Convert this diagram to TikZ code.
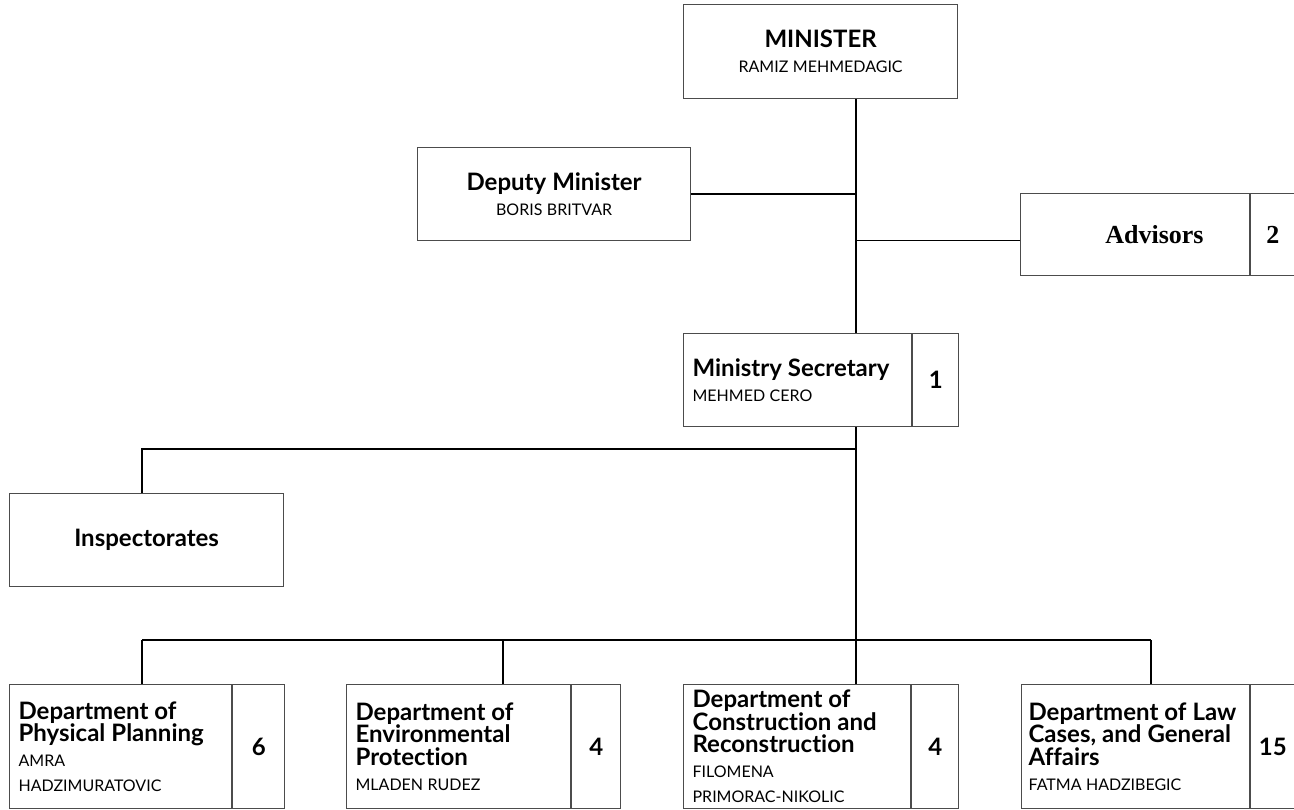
\documentclass[tikz,border=0pt]{standalone}
\usepackage{fontspec}
\setmainfont{Lato}[Ligatures={NoCommon}]
\newfontfamily\advfont{Liberation Serif}
\usetikzlibrary{positioning}
\setlength\parindent{0pt}

\newcommand\titlefont{\fontsize{24}{22.5}\selectfont\bfseries\spaceskip=0.25em\relax}
\newcommand\namefont{\fontsize{16}{25}\selectfont\spaceskip=0.28em\relax}
\newcommand\countfont{\fontsize{24}{24}\selectfont\bfseries}

\tikzset{
  box/.style={draw=black!70, line width=1.2pt, inner sep=0pt, anchor=north west},
  textcell/.style={box, inner xsep=9pt, align=left},
  centercell/.style={box, align=center},
  numcell/.style={draw=black!70, line width=1.2pt, inner sep=0pt, align=center, font=\countfont},
  link/.style={line width=1.4pt}
}

\begin{document}
\begin{tikzpicture}[x=1pt, y=-1pt]
    \useasboundingbox (0,0) rectangle (1294,810);

    % Top level
    \node[centercell, text width=274pt, minimum height=94pt] (minister) at (683,4)
        {{\titlefont MINISTER\par}{\namefont RAMIZ MEHMEDAGIC\par}};
    \node[centercell, text width=273pt, minimum height=93pt] (deputy) at (417,147)
        {{\titlefont Deputy Minister\par}{\namefont BORIS BRITVAR\par}};
    \node[box, text width=137pt, inner xsep=46pt, align=right, minimum height=82pt,
        font=\advfont\fontsize{26}{26}\selectfont\bfseries] (advisors) at (1020,193) {Advisors};
    \node[numcell, minimum width=44pt, minimum height=82pt, font=\advfont\fontsize{26}{26}\selectfont\bfseries,
        right=0pt of advisors] (advisorsn) {2};

    % Secretary and inspectorates
    \node[textcell, text width=210pt, minimum height=93pt] (secretary) at (683,333)
        {{\titlefont Ministry Secretary\par}{\namefont MEHMED CERO\par}};
    \node[numcell, minimum width=46pt, minimum height=93pt, right=0pt of secretary] (secretaryn) {1};
    \node[centercell, text width=274pt, minimum height=93pt] (inspect) at (9,493)
        {{\titlefont Inspectorates\par}};

    % Departments
    \node[textcell, text width=204pt, minimum height=124pt] (d1) at (9,684)
        {{\titlefont Department of\\Physical Planning\par}{\namefont AMRA\\HADZIMURATOVIC\par}};
    \node[numcell, minimum width=52pt, minimum height=124pt, right=0pt of d1] (d1n) {6};
    \node[textcell, text width=206pt, minimum height=124pt] (d2) at (346,684)
        {{\titlefont Department of\\Environmental\\Protection\par}{\namefont MLADEN RUDEZ\par}};
    \node[numcell, minimum width=49pt, minimum height=124pt, right=0pt of d2] (d2n) {4};
    \node[textcell, text width=209pt, minimum height=124pt] (d3) at (683,684)
        {{\titlefont Department of\\Construction and\\Reconstruction\par}{\namefont FILOMENA\\PRIMORAC-NIKOLIC\par}};
    \node[numcell, minimum width=47pt, minimum height=124pt, right=0pt of d3] (d3n) {4};
    \node[textcell, text width=214pt, inner xsep=7pt, minimum height=124pt] (d4) at (1021,684)
        {{\titlefont Department of Law\\Cases, and General\\Affairs\par}{\namefont FATMA HADZIBEGIC\par}};
    \node[numcell, minimum width=44pt, minimum height=124pt, right=0pt of d4] (d4n) {15};

    % Connectors
    \coordinate (trunk) at (856,449);
    \coordinate (ins) at (142,449);
    \draw[link] (minister.south -| trunk) -- (secretary.north -| trunk);
    \draw[link] (deputy.east) -- (deputy.east -| trunk);
    \draw[link] ([yshift=-6pt]advisors.west) -- ([yshift=-6pt]advisors.west -| trunk);
    \draw[link] (secretary.south -| trunk) -- (d3.north -| trunk);
    \draw[link] (inspect.north -| ins) -- (ins) -- (trunk);
    \foreach \i/\x in {1/142, 2/503, 3/856, 4/1151} {
        \coordinate (drop\i) at (\x,640);
        \draw[link] (drop\i) -- (drop\i |- d\i.north);
    }
    \draw[link] (drop1) -- (drop4);
\end{tikzpicture}
\end{document}
